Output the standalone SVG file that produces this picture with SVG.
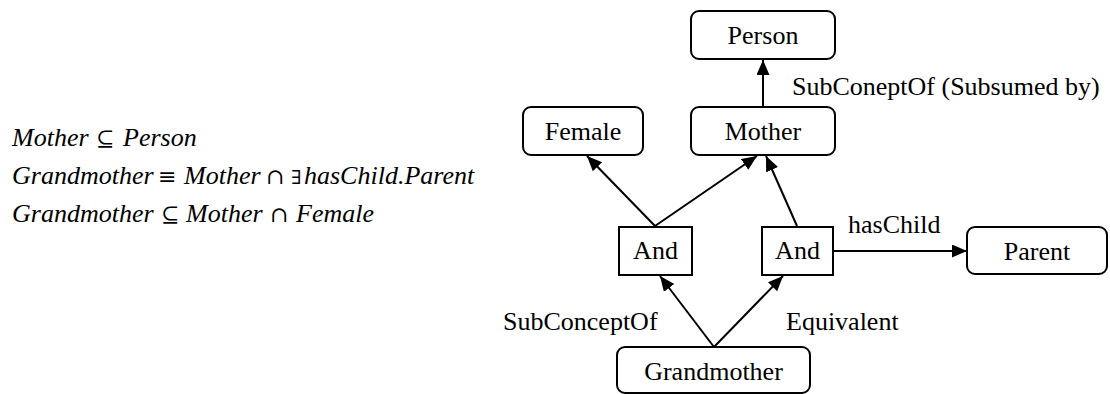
<svg xmlns="http://www.w3.org/2000/svg" width="1110" height="394" viewBox="0 0 1110 394">
  <style>
    .box { fill: #fff; stroke: #000; stroke-width: 2; }
    .lbl { font-family: "Liberation Serif", "Times New Roman", serif; font-size: 26px; fill: #000; }
    .mid { text-anchor: middle; }
    .eq { font-family: "Liberation Serif", "Times New Roman", serif; font-size: 26px; font-style: italic; fill: #000; }
    .sym { font-family: "DejaVu Serif", "Liberation Serif", serif; font-style: normal; font-size: 22px; }
    .ex { font-size: 19px; }
    .edge { stroke: #000; stroke-width: 2; fill: none; marker-end: url(#arrow); }
  </style>
  <defs>
    <marker id="arrow" markerUnits="userSpaceOnUse" markerWidth="16" markerHeight="14" refX="15" refY="6.5" orient="auto">
      <path d="M0,0 L15,6.5 L0,13 Z" fill="#000"/>
    </marker>
  </defs>
  <rect width="1110" height="394" fill="#fff"/>

  <!-- axioms -->
  <g id="axioms" class="eq">
    <text y="146"><tspan x="12">Mother</tspan><tspan class="sym" x="96">⊆</tspan><tspan x="123">Person</tspan></text>
    <text y="184"><tspan x="12">Grandmother</tspan><tspan class="sym" x="158">≡</tspan><tspan x="184">Mother</tspan><tspan class="sym" x="266">∩</tspan><tspan class="sym ex" x="291">∃</tspan><tspan x="304">hasChild.Parent</tspan></text>
    <text y="222"><tspan x="12">Grandmother</tspan><tspan class="sym" x="161">⊆</tspan><tspan x="186">Mother</tspan><tspan class="sym" x="270">∩</tspan><tspan x="296">Female</tspan></text>
  </g>

  <!-- connectors -->
  <g id="edges">
    <line class="edge" x1="763" y1="107" x2="763" y2="60"/>
    <line class="edge" x1="655" y1="226" x2="587" y2="156"/>
    <line class="edge" x1="655" y1="226" x2="757" y2="156"/>
    <line class="edge" x1="797" y1="226" x2="766" y2="156"/>
    <line class="edge" x1="833" y1="251" x2="967" y2="251"/>
    <line class="edge" x1="714" y1="347" x2="660" y2="276"/>
    <line class="edge" x1="714" y1="347" x2="783" y2="276"/>
    <text class="lbl" x="792" y="95">SubConeptOf (Subsumed by)</text>
    <text class="lbl" x="848" y="233">hasChild</text>
    <text class="lbl" x="503" y="330">SubConceptOf</text>
    <text class="lbl" x="786" y="330">Equivalent</text>
  </g>

  <g id="person">
    <rect class="box" x="691" y="11" width="144" height="48" rx="8"/>
    <text class="lbl mid" x="763" y="44">Person</text>
  </g>
  <g id="female">
    <rect class="box" x="523" y="107" width="120" height="48" rx="8"/>
    <text class="lbl mid" x="583" y="140">Female</text>
  </g>
  <g id="mother">
    <rect class="box" x="691" y="107" width="144" height="48" rx="8"/>
    <text class="lbl mid" x="763" y="140">Mother</text>
  </g>
  <g id="and1">
    <rect class="box" x="619" y="227" width="73" height="48"/>
    <text class="lbl mid" x="655.5" y="259">And</text>
  </g>
  <g id="and2">
    <rect class="box" x="762" y="227" width="71" height="48"/>
    <text class="lbl mid" x="797.5" y="259">And</text>
  </g>
  <g id="parent">
    <rect class="box" x="967" y="227" width="140" height="47" rx="8"/>
    <text class="lbl mid" x="1037" y="260">Parent</text>
  </g>
  <g id="grandmother">
    <rect class="box" x="617" y="347" width="193" height="46" rx="8"/>
    <text class="lbl mid" x="713.5" y="380">Grandmother</text>
  </g>
</svg>
